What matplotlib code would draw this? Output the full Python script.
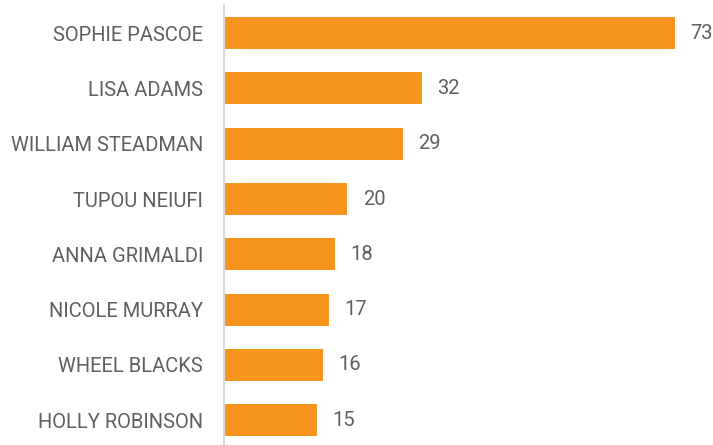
import matplotlib
matplotlib.use("Agg")
import matplotlib.pyplot as plt

names = ["SOPHIE PASCOE", "LISA ADAMS", "WILLIAM STEADMAN", "TUPOU NEIUFI",
         "ANNA GRIMALDI", "NICOLE MURRAY", "WHEEL BLACKS", "HOLLY ROBINSON"]
values = [73, 32, 29, 20, 18, 17, 16, 15]

orange = "#F7941D"
text_col = "#5f5f5f"
plt.rcParams["font.family"] = ["Roboto", "DejaVu Sans"]

fig = plt.figure(figsize=(7.13, 4.45), dpi=100)
ax = fig.add_axes([224 / 713, 0, 489 / 713, 440 / 445])

y = list(range(len(names)))
ax.barh(y, values, height=0.58, color=orange)
for yi, v in zip(y, values):
    ax.text(v + 2.5, yi, str(v), va="center", ha="left", fontsize=14.5, color=text_col)

ax.set_xlim(0, 79.2)
ax.set_ylim(7.45, -0.51)
ax.set_yticks(y)
ax.set_yticklabels(names, fontsize=14.5, color=text_col)
ax.tick_params(axis="y", length=0, pad=15)
ax.set_xticks([])
for side in ["top", "right", "bottom"]:
    ax.spines[side].set_visible(False)
ax.spines["left"].set_color("#d9d9d9")
ax.spines["left"].set_linewidth(1.5)

fig.savefig("out.png", dpi=100)
